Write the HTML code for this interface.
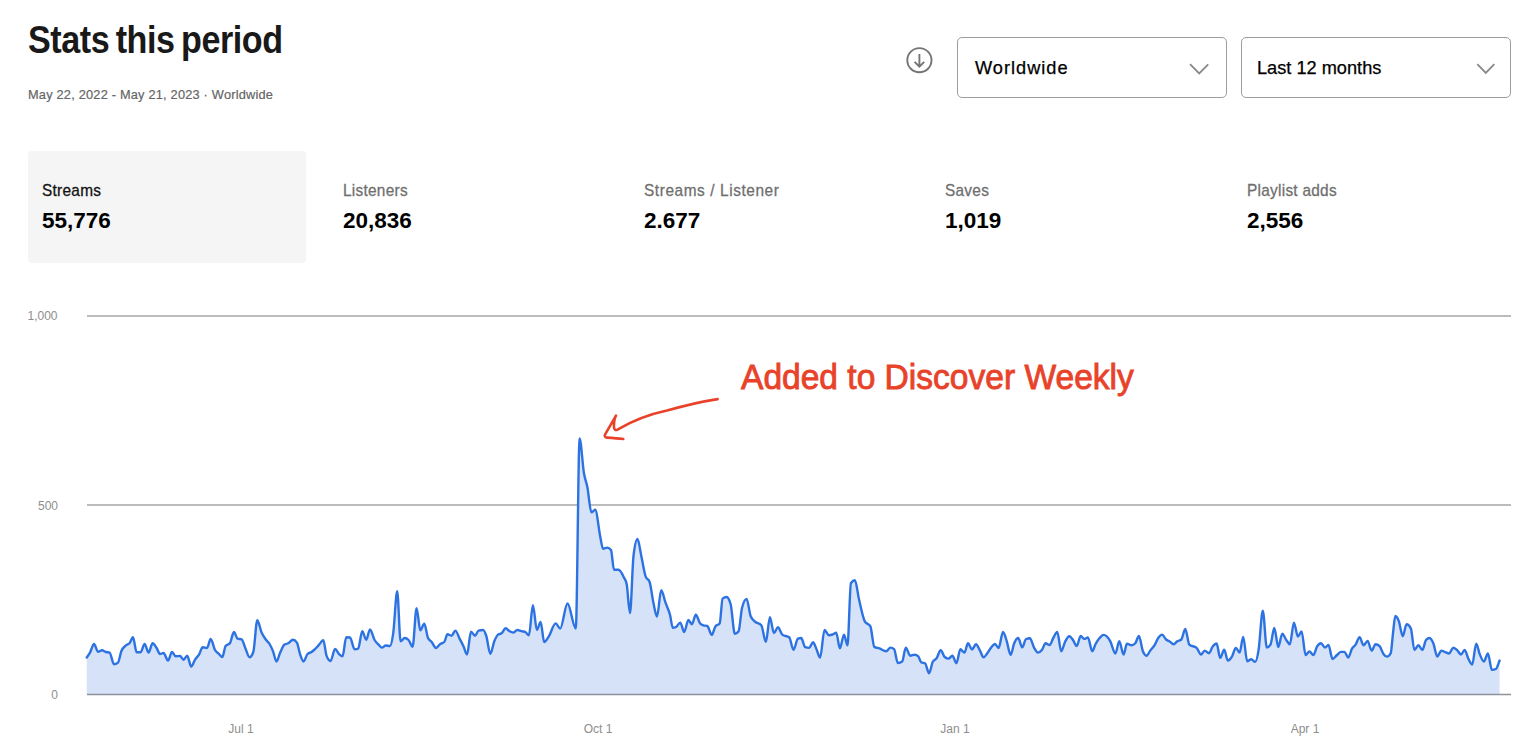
<!DOCTYPE html>
<html><head><meta charset="utf-8">
<style>
*{margin:0;padding:0;box-sizing:border-box}
html,body{width:1536px;height:751px;overflow:hidden;background:#fff;font-family:"Liberation Sans",sans-serif;color:#121212}
.a{position:absolute;white-space:nowrap;line-height:1}
#title{left:27.5px;top:20px;font-size:39px;font-weight:bold;color:#191919;letter-spacing:-0.5px;word-spacing:-3px;transform:scaleX(0.875);transform-origin:0 0}
#sub{left:28px;top:89.4px;font-size:12.8px;color:#666;letter-spacing:0.2px;-webkit-text-stroke:0.2px #666}
.dd{position:absolute;top:36.5px;height:61px;width:270px;border:1.7px solid #9d9d9d;border-radius:5px;background:#fff}
.dd span{position:absolute;left:17px;top:21px;font-size:18.2px;line-height:1;color:#000;-webkit-text-stroke:0.25px #000}
.dd svg{position:absolute;right:0;top:0}
#card{position:absolute;left:27.5px;top:151px;width:278px;height:112px;background:#f5f5f5;border-radius:4px}
.lab{font-size:17px;color:#6f6f6f;letter-spacing:0.3px;-webkit-text-stroke:0.3px currentColor;transform:scaleX(0.905);transform-origin:0 0}
.val{font-size:22.5px;font-weight:bold;color:#000}
.yl{font-size:12px;color:#8e8e8e;text-align:right;width:40px}
.xl{font-size:12px;color:#8e8e8e;text-align:center;width:60px}
#ann{left:740.5px;top:360.4px;font-size:35.7px;color:#e8432a;transform:scaleX(0.94);transform-origin:0 0;-webkit-text-stroke:0.9px #e8432a}
</style></head><body>
<div class="a" id="title">Stats this period</div>
<div class="a" id="sub">May 22, 2022 - May 21, 2023 · Worldwide</div>

<svg style="position:absolute;left:900px;top:41px" width="40" height="40" viewBox="0 0 40 40">
<circle cx="19.4" cy="19.2" r="12.1" fill="none" stroke="#757575" stroke-width="1.9"/>
<path d="M19.4 13v12.5M14.6 20.8l4.8 4.8 4.8-4.8" fill="none" stroke="#757575" stroke-width="1.9"/>
</svg>

<div class="dd" style="left:957px"><span style="letter-spacing:1px">Worldwide</span>
<svg width="268" height="58" viewBox="0 0 268 58"><path d="M232 26.2l9.2 9.2 9-9" fill="none" stroke="#888" stroke-width="1.8"/></svg></div>
<div class="dd" style="left:1241px"><span style="left:15px">Last 12 months</span>
<svg width="268" height="58" viewBox="0 0 268 58"><path d="M235.3 26.2l8.5 8.7 8.5-8.7" fill="none" stroke="#888" stroke-width="1.8"/></svg></div>

<div id="card"></div>
<div class="a lab" style="left:42px;top:181.7px;color:#121212">Streams</div>
<div class="a val" style="left:42px;top:209.7px">55,776</div>
<div class="a lab" style="left:343px;top:181.7px">Listeners</div>
<div class="a val" style="left:343px;top:209.7px">20,836</div>
<div class="a lab" style="left:644px;top:181.7px;letter-spacing:0.65px">Streams / Listener</div>
<div class="a val" style="left:644px;top:209.7px">2.677</div>
<div class="a lab" style="left:945px;top:181.7px">Saves</div>
<div class="a val" style="left:945px;top:209.7px">1,019</div>
<div class="a lab" style="left:1247px;top:181.7px">Playlist adds</div>
<div class="a val" style="left:1247px;top:209.7px">2,556</div>

<div class="a yl" style="left:17.5px;top:310.3px">1,000</div>
<div class="a yl" style="left:18px;top:499.8px">500</div>
<div class="a yl" style="left:18px;top:688.5px">0</div>
<div class="a xl" style="left:211px;top:722.8px">Jul 1</div>
<div class="a xl" style="left:568px;top:722.8px">Oct 1</div>
<div class="a xl" style="left:925px;top:722.8px">Jan 1</div>
<div class="a xl" style="left:1275px;top:722.8px">Apr 1</div>

<svg style="position:absolute;left:0;top:0" width="1536" height="751" viewBox="0 0 1536 751">
<line x1="87" y1="316" x2="1511" y2="316" stroke="#a6a6a6" stroke-width="1.5"/>
<line x1="87" y1="505" x2="1511" y2="505" stroke="#a6a6a6" stroke-width="1.5"/>
<path d="M86.7,657.5C87.8,655.87 88.9,654.56 90,652.6C91.33,650.22 92.67,644 94,644C95.33,644 96.67,651.7 98,651.7C99.33,651.7 100.67,650.3 102,650.3C103.33,650.3 104.67,651.61 106,652C107.2,652.35 108.4,652.2 109.6,652.6C111.07,653.09 112.53,664.2 114,664.2C115.33,664.2 116.67,663.67 118,662.6C119.1,661.72 120.2,654.09 121.3,651.3C122.87,647.32 124.43,646.67 126,645.3C127.17,644.28 128.33,644.63 129.5,643.3C130.67,641.97 131.83,637.3 133,637.3C134.2,637.3 135.4,652.2 136.6,652.2C137.93,652.2 139.27,652.2 140.6,652.2C141.93,652.2 143.27,644 144.6,644C145.93,644 147.27,652.6 148.6,652.6C149.93,652.6 151.27,643.3 152.6,643.3C153.93,643.3 155.27,646.01 156.6,648C157.73,649.69 158.87,654 160,654C161.2,654 162.4,653 163.6,653C165.07,653 166.53,660.6 168,660.6C169.33,660.6 170.67,652 172,652C173.2,652 174.4,656.2 175.6,656.2C177.07,656.2 178.53,656 180,656C181.2,656 182.4,659.7 183.6,659.7C184.8,659.7 186,655.7 187.2,655.7C188.53,655.7 189.87,666.6 191.2,666.6C192.53,666.6 193.87,661.33 195.2,659.3C196.47,657.37 197.73,656.64 199,654.6C200.23,652.61 201.47,647.3 202.7,647.3C204.13,647.3 205.57,648 207,648C208.23,648 209.47,638.9 210.7,638.9C212.13,638.9 213.57,647.47 215,650C216.33,652.35 217.67,652.73 219,654C220.1,655.05 221.2,657 222.3,657C223.4,657 224.5,647.38 225.6,646C227.03,644.2 228.47,645.1 229.9,643.3C231.23,641.63 232.57,632 233.9,632C235.13,632 236.37,638.17 237.6,638.6C238.93,639.07 240.27,638.83 241.6,639.3C242.83,639.73 244.07,645.21 245.3,648C246.73,651.25 248.17,657.3 249.6,657.3C250.83,657.3 252.07,655.53 253.3,652C254.63,648.18 255.97,620.2 257.3,620.2C258.73,620.2 260.17,629.36 261.6,632.6C262.93,635.61 264.27,637.4 265.6,639.3C266.93,641.2 268.27,641.73 269.6,644C270.73,645.93 271.87,648.44 273,651.3C274.17,654.25 275.33,661.5 276.5,661.5C277.73,661.5 278.97,655.26 280.2,652.6C281.63,649.51 283.07,645.61 284.5,644.6C285.73,643.73 286.97,643.96 288.2,643.3C289.77,642.46 291.33,639.7 292.9,639.7C294.23,639.7 295.57,640.67 296.9,642.6C298,644.2 299.1,651.45 300.2,654.6C301.3,657.75 302.4,661.5 303.5,661.5C304.83,661.5 306.17,655.33 307.5,654C308.83,652.67 310.17,652.91 311.5,652C312.33,651.43 313.17,650.73 314,650C315.57,648.63 317.13,646.85 318.7,645.2C320.23,643.58 321.77,640.2 323.3,640.2C324.4,640.2 325.5,653.09 326.6,655.9C327.93,659.3 329.27,661 330.6,661C332.07,661 333.53,649 335,649C336.43,649 337.87,653.07 339.3,654.3C340.4,655.25 341.5,656.2 342.6,656.2C343.8,656.2 345,637.3 346.2,637.3C347.47,637.3 348.73,637.37 350,637.5C351.53,637.66 353.07,649.2 354.6,649.2C355.8,649.2 357,649 358.2,648.6C359.53,648.16 360.87,631.3 362.2,631.3C363.53,631.3 364.87,639.7 366.2,639.7C367.47,639.7 368.73,629.5 370,629.5C371.53,629.5 373.07,637.43 374.6,640C375.93,642.24 377.27,643.26 378.6,644.6C379.73,645.74 380.87,647.6 382,647.6C383.23,647.6 384.47,645.5 385.7,645.5C387.13,645.5 388.57,646 390,646C391.07,646 392.13,640.63 393.2,633.3C394.53,624.14 395.87,591.3 397.2,591.3C398.33,591.3 399.47,641.3 400.6,641.3C401.93,641.3 403.27,638 404.6,638C405.93,638 407.27,638.67 408.6,640C409.93,641.33 411.27,646.6 412.6,646.6C413.93,646.6 415.27,608.2 416.6,608.2C417.83,608.2 419.07,630.3 420.3,630.3C421.63,630.3 422.97,623.7 424.3,623.7C425.53,623.7 426.77,635.33 428,638C429.23,640.67 430.47,640.49 431.7,642C433.13,643.76 434.57,648 436,648C437.43,648 438.87,645.01 440.3,644C441.63,643.06 442.97,643.33 444.3,642C445.33,640.97 446.37,634.3 447.4,634.3C448.8,634.3 450.2,635.7 451.6,635.7C452.87,635.7 454.13,630.6 455.4,630.6C456.8,630.6 458.2,635.87 459.6,638.6C460.93,641.2 462.27,643.68 463.6,646.6C464.73,649.08 465.87,654.6 467,654.6C468.33,654.6 469.67,631.7 471,631.7C472.33,631.7 473.67,635.7 475,635.7C476.17,635.7 477.33,630.91 478.5,630.6C480,630.2 481.5,630 483,630C484.1,630 485.2,632.68 486.3,636C487.63,640.03 488.97,653.9 490.3,653.9C491.63,653.9 492.97,644.57 494.3,641.3C495.53,638.27 496.77,635.49 498,634.6C499.2,633.73 500.4,634.17 501.6,633.3C502.93,632.34 504.27,628.2 505.6,628.2C506.93,628.2 508.27,630.56 509.6,631.3C510.8,631.97 512,632.6 513.2,632.6C514.53,632.6 515.87,630 517.2,630C518.87,630 520.53,630.86 522.2,631.3C523.33,631.6 524.47,631.6 525.6,632.2C526.7,632.78 527.8,635.3 528.9,635.3C530.23,635.3 531.57,605.3 532.9,605.3C534.23,605.3 535.57,630 536.9,630C538.13,630 539.37,622 540.6,622C541.8,622 543,642 544.2,642C545.73,642 547.27,638.68 548.8,636.4C551.1,632.99 553.4,623.4 555.7,623.4C557.2,623.4 558.7,628.6 560.2,628.6C562.63,628.6 565.07,603.5 567.5,603.5C570.27,603.5 573.03,628.6 575.8,628.6C577.07,628.6 578.33,438.5 579.6,438.5C581.07,438.5 582.53,465.06 584,473.5C585.13,480.02 586.27,481.55 587.4,487.3C588.73,494.07 590.07,512.4 591.4,512.4C592.67,512.4 593.93,509.8 595.2,509.8C596.93,509.8 598.67,529.4 600.4,537.5C601.27,541.55 602.13,548.8 603,548.8C604.43,548.8 605.87,547.6 607.3,547.6C608.53,547.6 609.77,548.4 611,550C612,551.3 613,569.8 614,569.8C615.5,569.8 617,569.8 618.5,569.8C620.33,569.8 622.17,573.84 624,577.6C624.87,579.38 625.73,579.63 626.6,583.7C627.73,589.02 628.87,613 630,613C631.17,613 632.33,565.92 633.5,556C634.83,544.67 636.17,539 637.5,539C638.77,539 640.03,550.2 641.3,556C642.77,562.72 644.23,572.71 645.7,576.7C647,580.23 648.3,578.47 649.6,582C650.87,585.44 652.13,596.85 653.4,602.7C654.6,608.24 655.8,616.5 657,616.5C658.4,616.5 659.8,590.2 661.2,590.2C662.63,590.2 664.07,598.69 665.5,602.7C667,606.9 668.5,608.96 670,614.8C670.93,618.43 671.87,627.8 672.8,627.8C673.87,627.8 674.93,627.53 676,627C677.43,626.28 678.87,622.6 680.3,622.6C681.6,622.6 682.9,632.1 684.2,632.1C685.6,632.1 687,620 688.4,620C689.57,620 690.73,624.3 691.9,624.3C693.2,624.3 694.5,614.8 695.8,614.8C697.27,614.8 698.73,621.8 700.2,623.5C701.23,624.7 702.27,624.94 703.3,625.3C704.63,625.77 705.97,625.53 707.3,626C708.77,626.51 710.23,634.9 711.7,634.9C712.9,634.9 714.1,628.4 715.3,626.6C716.77,624.4 718.23,625.5 719.7,623.3C720.67,621.85 721.63,599.37 722.6,598.6C723.93,597.53 725.27,597 726.6,597C727.93,597 729.27,599.33 730.6,604C732.03,609.02 733.47,633.9 734.9,633.9C736.13,633.9 737.37,633.03 738.6,631.3C739.73,629.71 740.87,612.48 742,608C743.53,601.93 745.07,598.9 746.6,598.9C747.93,598.9 749.27,612.47 750.6,616C751.93,619.53 753.27,619.9 754.6,621.3C756.83,623.65 759.07,622.63 761.3,625.3C762.83,627.13 764.37,641.9 765.9,641.9C767.23,641.9 768.57,617.3 769.9,617.3C771.23,617.3 772.57,633 773.9,633C775.23,633 776.57,627.3 777.9,627.3C779.37,627.3 780.83,633.45 782.3,634.6C784.6,636.4 786.9,635.5 789.2,637.3C790.63,638.42 792.07,649.9 793.5,649.9C794.97,649.9 796.43,639.13 797.9,638.6C799,638.2 800.1,638 801.2,638C802.53,638 803.87,646.73 805.2,647.2C806.53,647.67 807.87,647.9 809.2,647.9C810.47,647.9 811.73,642.3 813,642.3C814.17,642.3 815.33,646.69 816.5,649.2C817.7,651.78 818.9,657.6 820.1,657.6C821.57,657.6 823.03,630 824.5,630C825.97,630 827.43,635.2 828.9,635.2C830.13,635.2 831.37,634.93 832.6,634.5C833.8,634.08 835,632.7 836.2,632.7C837.43,632.7 838.67,648.4 839.9,648.4C841.27,648.4 842.63,634.7 844,634.7C845.17,634.7 846.33,645.4 847.5,645.4C848.63,645.4 849.77,584.84 850.9,583.2C852.23,581.27 853.57,580.3 854.9,580.3C856.27,580.3 857.63,593.44 859,599.3C860.93,607.59 862.87,617.78 864.8,621.3C866.67,624.7 868.53,623 870.4,626.4C871.7,628.77 873,646.15 874.3,646.9C876.03,647.9 877.77,647.78 879.5,648.4C881.7,649.18 883.9,651.3 886.1,651.3C887.57,651.3 889.03,647.6 890.5,647.6C891.7,647.6 892.9,648.1 894.1,649.1C895.33,650.13 896.57,663 897.8,663C899.27,663 900.73,662.5 902.2,661.5C903.4,660.68 904.6,647.6 905.8,647.6C907.27,647.6 908.73,655.7 910.2,655.7C911.67,655.7 913.13,654.7 914.6,654.7C915.83,654.7 917.07,655.27 918.3,656.4C919.27,657.29 920.23,661.72 921.2,662.3C922.53,663.1 923.87,662.7 925.2,663.5C926.47,664.26 927.73,673.3 929,673.3C930.3,673.3 931.6,663.65 932.9,661.5C934.07,659.57 935.23,660.14 936.4,658.6C937.83,656.7 939.27,650.3 940.7,650.3C942.03,650.3 943.37,655.91 944.7,657C946,658.07 947.3,658.6 948.6,658.6C949.87,658.6 951.13,655.7 952.4,655.7C953.73,655.7 955.07,663.2 956.4,663.2C957.73,663.2 959.07,649.3 960.4,649.3C961.73,649.3 963.07,652.6 964.4,652.6C965.6,652.6 966.8,643.3 968,643.3C969.33,643.3 970.67,649.5 972,649.5C973.33,649.5 974.67,644.2 976,644.2C977.33,644.2 978.67,648.24 980,650.6C981.17,652.66 982.33,657.3 983.5,657.3C984.77,657.3 986.03,654.91 987.3,653.3C988.63,651.61 989.97,648.88 991.3,647.3C992.53,645.84 993.77,644 995,644C996.2,644 997.4,648 998.6,648C1000.07,648 1001.53,632 1003,632C1004.2,632 1005.4,637.06 1006.6,640.6C1007.93,644.53 1009.27,654.9 1010.6,654.9C1011.8,654.9 1013,646.09 1014.2,643.3C1015.53,640.2 1016.87,638 1018.2,638C1019.53,638 1020.87,647.3 1022.2,647.3C1023.43,647.3 1024.67,639.92 1025.9,639.3C1027.23,638.63 1028.57,638.3 1029.9,638.3C1031.23,638.3 1032.57,644.92 1033.9,647.3C1035.23,649.68 1036.57,652.6 1037.9,652.6C1039.23,652.6 1040.57,651.67 1041.9,650C1043.13,648.45 1044.37,643.3 1045.6,643.3C1046.97,643.3 1048.33,645 1049.7,645C1050.8,645 1051.9,640.54 1053,638.6C1054.43,636.07 1055.87,632 1057.3,632C1058.6,632 1059.9,651.3 1061.2,651.3C1062.47,651.3 1063.73,644.46 1065,642C1066.4,639.28 1067.8,636.2 1069.2,636.2C1070.47,636.2 1071.73,638.33 1073,640C1074.23,641.62 1075.47,646 1076.7,646C1078.03,646 1079.37,636 1080.7,636C1081.9,636 1083.1,638.9 1084.3,638.9C1085.5,638.9 1086.7,637.5 1087.9,637.5C1089.37,637.5 1090.83,651.3 1092.3,651.3C1093.4,651.3 1094.5,646.08 1095.6,644C1096.93,641.48 1098.27,639.52 1099.6,638C1100.93,636.48 1102.27,634.9 1103.6,634.9C1105.83,634.9 1108.07,637.27 1110.3,641.3C1111.97,644.31 1113.63,653.5 1115.3,653.5C1116.63,653.5 1117.97,641.3 1119.3,641.3C1120.73,641.3 1122.17,654.6 1123.6,654.6C1124.7,654.6 1125.8,643.7 1126.9,643.7C1128.47,643.7 1130.03,645.3 1131.6,645.3C1132.83,645.3 1134.07,644.63 1135.3,643.3C1136.5,642 1137.7,636 1138.9,636C1140.23,636 1141.57,648.04 1142.9,651.3C1144.1,654.23 1145.3,655.7 1146.5,655.7C1147.73,655.7 1148.97,652.24 1150.2,650.6C1151.77,648.51 1153.33,647.27 1154.9,644.6C1156,642.73 1157.1,639.63 1158.2,638C1159.53,636.03 1160.87,634.6 1162.2,634.6C1163.47,634.6 1164.73,638.32 1166,639.5C1167.33,640.74 1168.67,640.85 1170,641.7C1171.2,642.47 1172.4,644.3 1173.6,644.3C1174.83,644.3 1176.07,642.09 1177.3,641.3C1178.63,640.45 1179.97,640.7 1181.3,639.5C1182.63,638.3 1183.97,628.9 1185.3,628.9C1186.63,628.9 1187.97,643.39 1189.3,644.6C1191.73,646.8 1194.17,645.7 1196.6,647.9C1198.07,649.23 1199.53,654.6 1201,654.6C1202.2,654.6 1203.4,650.6 1204.6,650.6C1206.07,650.6 1207.53,653.2 1209,653.2C1210.2,653.2 1211.4,648.2 1212.6,646.6C1213.93,644.82 1215.27,643.5 1216.6,643.5C1217.8,643.5 1219,657.9 1220.2,657.9C1221.53,657.9 1222.87,649.7 1224.2,649.7C1225.43,649.7 1226.67,660.6 1227.9,660.6C1229.23,660.6 1230.57,658.72 1231.9,656.6C1233.23,654.48 1234.57,647.9 1235.9,647.9C1237.13,647.9 1238.37,652.6 1239.6,652.6C1240.8,652.6 1242,636.9 1243.2,636.9C1244.53,636.9 1245.87,661.2 1247.2,661.2C1248.53,661.2 1249.87,659.2 1251.2,659.2C1252.53,659.2 1253.87,661.9 1255.2,661.9C1256.33,661.9 1257.47,656.85 1258.6,649.9C1260,641.31 1261.4,610.6 1262.8,610.6C1264.13,610.6 1265.47,647.5 1266.8,647.5C1268.03,647.5 1269.27,646.53 1270.5,644.6C1271.77,642.61 1273.03,628 1274.3,628C1275.63,628 1276.97,647 1278.3,647C1279.63,647 1280.97,633.7 1282.3,633.7C1283.63,633.7 1284.97,638.17 1286.3,640C1287.5,641.65 1288.7,644.3 1289.9,644.3C1291.23,644.3 1292.57,622.6 1293.9,622.6C1295.23,622.6 1296.57,636.6 1297.9,636.6C1299.13,636.6 1300.37,631.5 1301.6,631.5C1302.93,631.5 1304.27,655 1305.6,655C1306.87,655 1308.13,651.5 1309.4,651.5C1310.73,651.5 1312.07,655 1313.4,655C1314.6,655 1315.8,648.54 1317,646.6C1318.33,644.44 1319.67,643.3 1321,643.3C1322.33,643.3 1323.67,647.5 1325,647.5C1326.17,647.5 1327.33,644.9 1328.5,644.9C1329.83,644.9 1331.17,659 1332.5,659C1333.83,659 1335.17,656.63 1336.5,655.5C1337.97,654.26 1339.43,651.9 1340.9,651.9C1342.1,651.9 1343.3,651.9 1344.5,651.9C1345.77,651.9 1347.03,657.6 1348.3,657.6C1349.53,657.6 1350.77,650.77 1352,648.6C1353.2,646.48 1354.4,646.34 1355.6,644.6C1356.93,642.67 1358.27,637.3 1359.6,637.3C1360.93,637.3 1362.27,645.3 1363.6,645.3C1364.93,645.3 1366.27,640.9 1367.6,640.9C1368.93,640.9 1370.27,650.6 1371.6,650.6C1372.93,650.6 1374.27,644.3 1375.6,644.3C1376.93,644.3 1378.27,644.93 1379.6,646.2C1380.93,647.47 1382.27,652.47 1383.6,654.2C1384.77,655.72 1385.93,656.6 1387.1,656.6C1388.3,656.6 1389.5,655.5 1390.7,653.3C1391.47,651.89 1392.23,639.52 1393,633.3C1393.77,627.08 1394.53,616 1395.3,616C1396.5,616 1397.7,618.1 1398.9,621.3C1400.17,624.67 1401.43,636.2 1402.7,636.2C1404,636.2 1405.3,624.2 1406.6,624.2C1408.03,624.2 1409.47,625.67 1410.9,628.6C1412.07,630.99 1413.23,650 1414.4,650C1415.73,650 1417.07,645.3 1418.4,645.3C1419.73,645.3 1421.07,650 1422.4,650C1423.6,650 1424.8,641.33 1426,640C1427.2,638.67 1428.4,638 1429.6,638C1430.83,638 1432.07,640.41 1433.3,643.3C1434.63,646.42 1435.97,656.6 1437.3,656.6C1438.63,656.6 1439.97,650.6 1441.3,650.6C1442.63,650.6 1443.97,651.7 1445.3,652.2C1446.53,652.66 1447.77,653.5 1449,653.5C1450.43,653.5 1451.87,647.7 1453.3,647.7C1454.63,647.7 1455.97,649.08 1457.3,650.3C1458.53,651.43 1459.77,654.6 1461,654.6C1462.2,654.6 1463.4,650 1464.6,650C1465.93,650 1467.27,656.8 1468.6,659.3C1469.8,661.55 1471,664.6 1472.2,664.6C1473.53,664.6 1474.87,643.7 1476.2,643.7C1477.43,643.7 1478.67,651.69 1479.9,654.6C1481.23,657.75 1482.57,661.5 1483.9,661.5C1485.23,661.5 1486.57,653.5 1487.9,653.5C1489.23,653.5 1490.57,669.9 1491.9,669.9C1493.23,669.9 1494.57,669.6 1495.9,669C1497.13,668.45 1498.37,663.4 1499.6,660.6L1499.6,694.5L86.7,694.5Z" fill="#d6e2f8"/>
<line x1="87" y1="694.5" x2="1511" y2="694.5" stroke="#8f939c" stroke-width="1.5"/>
<path d="M86.7,657.5C87.8,655.87 88.9,654.56 90,652.6C91.33,650.22 92.67,644 94,644C95.33,644 96.67,651.7 98,651.7C99.33,651.7 100.67,650.3 102,650.3C103.33,650.3 104.67,651.61 106,652C107.2,652.35 108.4,652.2 109.6,652.6C111.07,653.09 112.53,664.2 114,664.2C115.33,664.2 116.67,663.67 118,662.6C119.1,661.72 120.2,654.09 121.3,651.3C122.87,647.32 124.43,646.67 126,645.3C127.17,644.28 128.33,644.63 129.5,643.3C130.67,641.97 131.83,637.3 133,637.3C134.2,637.3 135.4,652.2 136.6,652.2C137.93,652.2 139.27,652.2 140.6,652.2C141.93,652.2 143.27,644 144.6,644C145.93,644 147.27,652.6 148.6,652.6C149.93,652.6 151.27,643.3 152.6,643.3C153.93,643.3 155.27,646.01 156.6,648C157.73,649.69 158.87,654 160,654C161.2,654 162.4,653 163.6,653C165.07,653 166.53,660.6 168,660.6C169.33,660.6 170.67,652 172,652C173.2,652 174.4,656.2 175.6,656.2C177.07,656.2 178.53,656 180,656C181.2,656 182.4,659.7 183.6,659.7C184.8,659.7 186,655.7 187.2,655.7C188.53,655.7 189.87,666.6 191.2,666.6C192.53,666.6 193.87,661.33 195.2,659.3C196.47,657.37 197.73,656.64 199,654.6C200.23,652.61 201.47,647.3 202.7,647.3C204.13,647.3 205.57,648 207,648C208.23,648 209.47,638.9 210.7,638.9C212.13,638.9 213.57,647.47 215,650C216.33,652.35 217.67,652.73 219,654C220.1,655.05 221.2,657 222.3,657C223.4,657 224.5,647.38 225.6,646C227.03,644.2 228.47,645.1 229.9,643.3C231.23,641.63 232.57,632 233.9,632C235.13,632 236.37,638.17 237.6,638.6C238.93,639.07 240.27,638.83 241.6,639.3C242.83,639.73 244.07,645.21 245.3,648C246.73,651.25 248.17,657.3 249.6,657.3C250.83,657.3 252.07,655.53 253.3,652C254.63,648.18 255.97,620.2 257.3,620.2C258.73,620.2 260.17,629.36 261.6,632.6C262.93,635.61 264.27,637.4 265.6,639.3C266.93,641.2 268.27,641.73 269.6,644C270.73,645.93 271.87,648.44 273,651.3C274.17,654.25 275.33,661.5 276.5,661.5C277.73,661.5 278.97,655.26 280.2,652.6C281.63,649.51 283.07,645.61 284.5,644.6C285.73,643.73 286.97,643.96 288.2,643.3C289.77,642.46 291.33,639.7 292.9,639.7C294.23,639.7 295.57,640.67 296.9,642.6C298,644.2 299.1,651.45 300.2,654.6C301.3,657.75 302.4,661.5 303.5,661.5C304.83,661.5 306.17,655.33 307.5,654C308.83,652.67 310.17,652.91 311.5,652C312.33,651.43 313.17,650.73 314,650C315.57,648.63 317.13,646.85 318.7,645.2C320.23,643.58 321.77,640.2 323.3,640.2C324.4,640.2 325.5,653.09 326.6,655.9C327.93,659.3 329.27,661 330.6,661C332.07,661 333.53,649 335,649C336.43,649 337.87,653.07 339.3,654.3C340.4,655.25 341.5,656.2 342.6,656.2C343.8,656.2 345,637.3 346.2,637.3C347.47,637.3 348.73,637.37 350,637.5C351.53,637.66 353.07,649.2 354.6,649.2C355.8,649.2 357,649 358.2,648.6C359.53,648.16 360.87,631.3 362.2,631.3C363.53,631.3 364.87,639.7 366.2,639.7C367.47,639.7 368.73,629.5 370,629.5C371.53,629.5 373.07,637.43 374.6,640C375.93,642.24 377.27,643.26 378.6,644.6C379.73,645.74 380.87,647.6 382,647.6C383.23,647.6 384.47,645.5 385.7,645.5C387.13,645.5 388.57,646 390,646C391.07,646 392.13,640.63 393.2,633.3C394.53,624.14 395.87,591.3 397.2,591.3C398.33,591.3 399.47,641.3 400.6,641.3C401.93,641.3 403.27,638 404.6,638C405.93,638 407.27,638.67 408.6,640C409.93,641.33 411.27,646.6 412.6,646.6C413.93,646.6 415.27,608.2 416.6,608.2C417.83,608.2 419.07,630.3 420.3,630.3C421.63,630.3 422.97,623.7 424.3,623.7C425.53,623.7 426.77,635.33 428,638C429.23,640.67 430.47,640.49 431.7,642C433.13,643.76 434.57,648 436,648C437.43,648 438.87,645.01 440.3,644C441.63,643.06 442.97,643.33 444.3,642C445.33,640.97 446.37,634.3 447.4,634.3C448.8,634.3 450.2,635.7 451.6,635.7C452.87,635.7 454.13,630.6 455.4,630.6C456.8,630.6 458.2,635.87 459.6,638.6C460.93,641.2 462.27,643.68 463.6,646.6C464.73,649.08 465.87,654.6 467,654.6C468.33,654.6 469.67,631.7 471,631.7C472.33,631.7 473.67,635.7 475,635.7C476.17,635.7 477.33,630.91 478.5,630.6C480,630.2 481.5,630 483,630C484.1,630 485.2,632.68 486.3,636C487.63,640.03 488.97,653.9 490.3,653.9C491.63,653.9 492.97,644.57 494.3,641.3C495.53,638.27 496.77,635.49 498,634.6C499.2,633.73 500.4,634.17 501.6,633.3C502.93,632.34 504.27,628.2 505.6,628.2C506.93,628.2 508.27,630.56 509.6,631.3C510.8,631.97 512,632.6 513.2,632.6C514.53,632.6 515.87,630 517.2,630C518.87,630 520.53,630.86 522.2,631.3C523.33,631.6 524.47,631.6 525.6,632.2C526.7,632.78 527.8,635.3 528.9,635.3C530.23,635.3 531.57,605.3 532.9,605.3C534.23,605.3 535.57,630 536.9,630C538.13,630 539.37,622 540.6,622C541.8,622 543,642 544.2,642C545.73,642 547.27,638.68 548.8,636.4C551.1,632.99 553.4,623.4 555.7,623.4C557.2,623.4 558.7,628.6 560.2,628.6C562.63,628.6 565.07,603.5 567.5,603.5C570.27,603.5 573.03,628.6 575.8,628.6C577.07,628.6 578.33,438.5 579.6,438.5C581.07,438.5 582.53,465.06 584,473.5C585.13,480.02 586.27,481.55 587.4,487.3C588.73,494.07 590.07,512.4 591.4,512.4C592.67,512.4 593.93,509.8 595.2,509.8C596.93,509.8 598.67,529.4 600.4,537.5C601.27,541.55 602.13,548.8 603,548.8C604.43,548.8 605.87,547.6 607.3,547.6C608.53,547.6 609.77,548.4 611,550C612,551.3 613,569.8 614,569.8C615.5,569.8 617,569.8 618.5,569.8C620.33,569.8 622.17,573.84 624,577.6C624.87,579.38 625.73,579.63 626.6,583.7C627.73,589.02 628.87,613 630,613C631.17,613 632.33,565.92 633.5,556C634.83,544.67 636.17,539 637.5,539C638.77,539 640.03,550.2 641.3,556C642.77,562.72 644.23,572.71 645.7,576.7C647,580.23 648.3,578.47 649.6,582C650.87,585.44 652.13,596.85 653.4,602.7C654.6,608.24 655.8,616.5 657,616.5C658.4,616.5 659.8,590.2 661.2,590.2C662.63,590.2 664.07,598.69 665.5,602.7C667,606.9 668.5,608.96 670,614.8C670.93,618.43 671.87,627.8 672.8,627.8C673.87,627.8 674.93,627.53 676,627C677.43,626.28 678.87,622.6 680.3,622.6C681.6,622.6 682.9,632.1 684.2,632.1C685.6,632.1 687,620 688.4,620C689.57,620 690.73,624.3 691.9,624.3C693.2,624.3 694.5,614.8 695.8,614.8C697.27,614.8 698.73,621.8 700.2,623.5C701.23,624.7 702.27,624.94 703.3,625.3C704.63,625.77 705.97,625.53 707.3,626C708.77,626.51 710.23,634.9 711.7,634.9C712.9,634.9 714.1,628.4 715.3,626.6C716.77,624.4 718.23,625.5 719.7,623.3C720.67,621.85 721.63,599.37 722.6,598.6C723.93,597.53 725.27,597 726.6,597C727.93,597 729.27,599.33 730.6,604C732.03,609.02 733.47,633.9 734.9,633.9C736.13,633.9 737.37,633.03 738.6,631.3C739.73,629.71 740.87,612.48 742,608C743.53,601.93 745.07,598.9 746.6,598.9C747.93,598.9 749.27,612.47 750.6,616C751.93,619.53 753.27,619.9 754.6,621.3C756.83,623.65 759.07,622.63 761.3,625.3C762.83,627.13 764.37,641.9 765.9,641.9C767.23,641.9 768.57,617.3 769.9,617.3C771.23,617.3 772.57,633 773.9,633C775.23,633 776.57,627.3 777.9,627.3C779.37,627.3 780.83,633.45 782.3,634.6C784.6,636.4 786.9,635.5 789.2,637.3C790.63,638.42 792.07,649.9 793.5,649.9C794.97,649.9 796.43,639.13 797.9,638.6C799,638.2 800.1,638 801.2,638C802.53,638 803.87,646.73 805.2,647.2C806.53,647.67 807.87,647.9 809.2,647.9C810.47,647.9 811.73,642.3 813,642.3C814.17,642.3 815.33,646.69 816.5,649.2C817.7,651.78 818.9,657.6 820.1,657.6C821.57,657.6 823.03,630 824.5,630C825.97,630 827.43,635.2 828.9,635.2C830.13,635.2 831.37,634.93 832.6,634.5C833.8,634.08 835,632.7 836.2,632.7C837.43,632.7 838.67,648.4 839.9,648.4C841.27,648.4 842.63,634.7 844,634.7C845.17,634.7 846.33,645.4 847.5,645.4C848.63,645.4 849.77,584.84 850.9,583.2C852.23,581.27 853.57,580.3 854.9,580.3C856.27,580.3 857.63,593.44 859,599.3C860.93,607.59 862.87,617.78 864.8,621.3C866.67,624.7 868.53,623 870.4,626.4C871.7,628.77 873,646.15 874.3,646.9C876.03,647.9 877.77,647.78 879.5,648.4C881.7,649.18 883.9,651.3 886.1,651.3C887.57,651.3 889.03,647.6 890.5,647.6C891.7,647.6 892.9,648.1 894.1,649.1C895.33,650.13 896.57,663 897.8,663C899.27,663 900.73,662.5 902.2,661.5C903.4,660.68 904.6,647.6 905.8,647.6C907.27,647.6 908.73,655.7 910.2,655.7C911.67,655.7 913.13,654.7 914.6,654.7C915.83,654.7 917.07,655.27 918.3,656.4C919.27,657.29 920.23,661.72 921.2,662.3C922.53,663.1 923.87,662.7 925.2,663.5C926.47,664.26 927.73,673.3 929,673.3C930.3,673.3 931.6,663.65 932.9,661.5C934.07,659.57 935.23,660.14 936.4,658.6C937.83,656.7 939.27,650.3 940.7,650.3C942.03,650.3 943.37,655.91 944.7,657C946,658.07 947.3,658.6 948.6,658.6C949.87,658.6 951.13,655.7 952.4,655.7C953.73,655.7 955.07,663.2 956.4,663.2C957.73,663.2 959.07,649.3 960.4,649.3C961.73,649.3 963.07,652.6 964.4,652.6C965.6,652.6 966.8,643.3 968,643.3C969.33,643.3 970.67,649.5 972,649.5C973.33,649.5 974.67,644.2 976,644.2C977.33,644.2 978.67,648.24 980,650.6C981.17,652.66 982.33,657.3 983.5,657.3C984.77,657.3 986.03,654.91 987.3,653.3C988.63,651.61 989.97,648.88 991.3,647.3C992.53,645.84 993.77,644 995,644C996.2,644 997.4,648 998.6,648C1000.07,648 1001.53,632 1003,632C1004.2,632 1005.4,637.06 1006.6,640.6C1007.93,644.53 1009.27,654.9 1010.6,654.9C1011.8,654.9 1013,646.09 1014.2,643.3C1015.53,640.2 1016.87,638 1018.2,638C1019.53,638 1020.87,647.3 1022.2,647.3C1023.43,647.3 1024.67,639.92 1025.9,639.3C1027.23,638.63 1028.57,638.3 1029.9,638.3C1031.23,638.3 1032.57,644.92 1033.9,647.3C1035.23,649.68 1036.57,652.6 1037.9,652.6C1039.23,652.6 1040.57,651.67 1041.9,650C1043.13,648.45 1044.37,643.3 1045.6,643.3C1046.97,643.3 1048.33,645 1049.7,645C1050.8,645 1051.9,640.54 1053,638.6C1054.43,636.07 1055.87,632 1057.3,632C1058.6,632 1059.9,651.3 1061.2,651.3C1062.47,651.3 1063.73,644.46 1065,642C1066.4,639.28 1067.8,636.2 1069.2,636.2C1070.47,636.2 1071.73,638.33 1073,640C1074.23,641.62 1075.47,646 1076.7,646C1078.03,646 1079.37,636 1080.7,636C1081.9,636 1083.1,638.9 1084.3,638.9C1085.5,638.9 1086.7,637.5 1087.9,637.5C1089.37,637.5 1090.83,651.3 1092.3,651.3C1093.4,651.3 1094.5,646.08 1095.6,644C1096.93,641.48 1098.27,639.52 1099.6,638C1100.93,636.48 1102.27,634.9 1103.6,634.9C1105.83,634.9 1108.07,637.27 1110.3,641.3C1111.97,644.31 1113.63,653.5 1115.3,653.5C1116.63,653.5 1117.97,641.3 1119.3,641.3C1120.73,641.3 1122.17,654.6 1123.6,654.6C1124.7,654.6 1125.8,643.7 1126.9,643.7C1128.47,643.7 1130.03,645.3 1131.6,645.3C1132.83,645.3 1134.07,644.63 1135.3,643.3C1136.5,642 1137.7,636 1138.9,636C1140.23,636 1141.57,648.04 1142.9,651.3C1144.1,654.23 1145.3,655.7 1146.5,655.7C1147.73,655.7 1148.97,652.24 1150.2,650.6C1151.77,648.51 1153.33,647.27 1154.9,644.6C1156,642.73 1157.1,639.63 1158.2,638C1159.53,636.03 1160.87,634.6 1162.2,634.6C1163.47,634.6 1164.73,638.32 1166,639.5C1167.33,640.74 1168.67,640.85 1170,641.7C1171.2,642.47 1172.4,644.3 1173.6,644.3C1174.83,644.3 1176.07,642.09 1177.3,641.3C1178.63,640.45 1179.97,640.7 1181.3,639.5C1182.63,638.3 1183.97,628.9 1185.3,628.9C1186.63,628.9 1187.97,643.39 1189.3,644.6C1191.73,646.8 1194.17,645.7 1196.6,647.9C1198.07,649.23 1199.53,654.6 1201,654.6C1202.2,654.6 1203.4,650.6 1204.6,650.6C1206.07,650.6 1207.53,653.2 1209,653.2C1210.2,653.2 1211.4,648.2 1212.6,646.6C1213.93,644.82 1215.27,643.5 1216.6,643.5C1217.8,643.5 1219,657.9 1220.2,657.9C1221.53,657.9 1222.87,649.7 1224.2,649.7C1225.43,649.7 1226.67,660.6 1227.9,660.6C1229.23,660.6 1230.57,658.72 1231.9,656.6C1233.23,654.48 1234.57,647.9 1235.9,647.9C1237.13,647.9 1238.37,652.6 1239.6,652.6C1240.8,652.6 1242,636.9 1243.2,636.9C1244.53,636.9 1245.87,661.2 1247.2,661.2C1248.53,661.2 1249.87,659.2 1251.2,659.2C1252.53,659.2 1253.87,661.9 1255.2,661.9C1256.33,661.9 1257.47,656.85 1258.6,649.9C1260,641.31 1261.4,610.6 1262.8,610.6C1264.13,610.6 1265.47,647.5 1266.8,647.5C1268.03,647.5 1269.27,646.53 1270.5,644.6C1271.77,642.61 1273.03,628 1274.3,628C1275.63,628 1276.97,647 1278.3,647C1279.63,647 1280.97,633.7 1282.3,633.7C1283.63,633.7 1284.97,638.17 1286.3,640C1287.5,641.65 1288.7,644.3 1289.9,644.3C1291.23,644.3 1292.57,622.6 1293.9,622.6C1295.23,622.6 1296.57,636.6 1297.9,636.6C1299.13,636.6 1300.37,631.5 1301.6,631.5C1302.93,631.5 1304.27,655 1305.6,655C1306.87,655 1308.13,651.5 1309.4,651.5C1310.73,651.5 1312.07,655 1313.4,655C1314.6,655 1315.8,648.54 1317,646.6C1318.33,644.44 1319.67,643.3 1321,643.3C1322.33,643.3 1323.67,647.5 1325,647.5C1326.17,647.5 1327.33,644.9 1328.5,644.9C1329.83,644.9 1331.17,659 1332.5,659C1333.83,659 1335.17,656.63 1336.5,655.5C1337.97,654.26 1339.43,651.9 1340.9,651.9C1342.1,651.9 1343.3,651.9 1344.5,651.9C1345.77,651.9 1347.03,657.6 1348.3,657.6C1349.53,657.6 1350.77,650.77 1352,648.6C1353.2,646.48 1354.4,646.34 1355.6,644.6C1356.93,642.67 1358.27,637.3 1359.6,637.3C1360.93,637.3 1362.27,645.3 1363.6,645.3C1364.93,645.3 1366.27,640.9 1367.6,640.9C1368.93,640.9 1370.27,650.6 1371.6,650.6C1372.93,650.6 1374.27,644.3 1375.6,644.3C1376.93,644.3 1378.27,644.93 1379.6,646.2C1380.93,647.47 1382.27,652.47 1383.6,654.2C1384.77,655.72 1385.93,656.6 1387.1,656.6C1388.3,656.6 1389.5,655.5 1390.7,653.3C1391.47,651.89 1392.23,639.52 1393,633.3C1393.77,627.08 1394.53,616 1395.3,616C1396.5,616 1397.7,618.1 1398.9,621.3C1400.17,624.67 1401.43,636.2 1402.7,636.2C1404,636.2 1405.3,624.2 1406.6,624.2C1408.03,624.2 1409.47,625.67 1410.9,628.6C1412.07,630.99 1413.23,650 1414.4,650C1415.73,650 1417.07,645.3 1418.4,645.3C1419.73,645.3 1421.07,650 1422.4,650C1423.6,650 1424.8,641.33 1426,640C1427.2,638.67 1428.4,638 1429.6,638C1430.83,638 1432.07,640.41 1433.3,643.3C1434.63,646.42 1435.97,656.6 1437.3,656.6C1438.63,656.6 1439.97,650.6 1441.3,650.6C1442.63,650.6 1443.97,651.7 1445.3,652.2C1446.53,652.66 1447.77,653.5 1449,653.5C1450.43,653.5 1451.87,647.7 1453.3,647.7C1454.63,647.7 1455.97,649.08 1457.3,650.3C1458.53,651.43 1459.77,654.6 1461,654.6C1462.2,654.6 1463.4,650 1464.6,650C1465.93,650 1467.27,656.8 1468.6,659.3C1469.8,661.55 1471,664.6 1472.2,664.6C1473.53,664.6 1474.87,643.7 1476.2,643.7C1477.43,643.7 1478.67,651.69 1479.9,654.6C1481.23,657.75 1482.57,661.5 1483.9,661.5C1485.23,661.5 1486.57,653.5 1487.9,653.5C1489.23,653.5 1490.57,669.9 1491.9,669.9C1493.23,669.9 1494.57,669.6 1495.9,669C1497.13,668.45 1498.37,663.4 1499.6,660.6" fill="none" stroke="#2c73e1" stroke-width="2.4" stroke-linejoin="round" stroke-linecap="round"/>
<path d="M717.6,399.1C700,401.8 683,406 667,410.6C650,414.2 634,420 617.5,429.6C614.2,431.2 613.6,427.5 614,424.5C614.2,420.5 614.8,417.6 616,415.6L605,434.6C604.3,436.2 605.2,437.5 606.6,437.6C612,437.9 618,438.3 623.3,439" fill="none" stroke="#e8432a" stroke-width="2.6" stroke-linecap="round" stroke-linejoin="round"/>
</svg>
<div class="a" id="ann">Added to Discover Weekly</div>
</body></html>
